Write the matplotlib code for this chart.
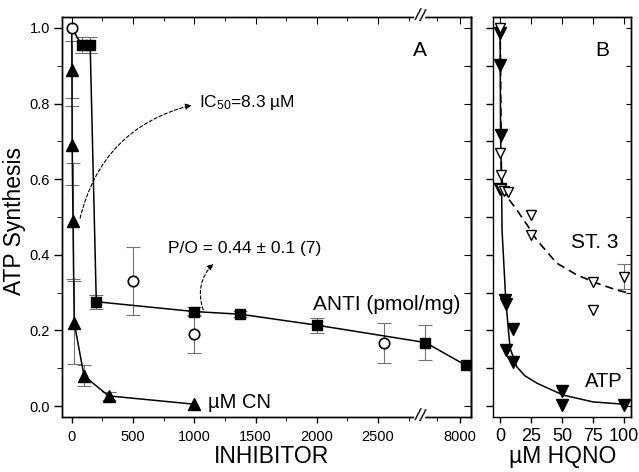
import numpy as np
import matplotlib
matplotlib.use('Agg')
import matplotlib.pyplot as plt
from matplotlib.ticker import FormatStrFormatter

plt.rcParams['font.family'] = ['Liberation Sans', 'DejaVu Sans']
plt.rcParams['mathtext.fontset'] = 'custom'
plt.rcParams['mathtext.rm'] = 'Liberation Sans'
plt.rcParams['mathtext.default'] = 'rm'
plt.rcParams['axes.linewidth'] = 1.0

# panel A: antimycin (squares), second set (circles), cyanide (triangles)
anti_x = [0, 80, 150, 200, 1000, 1375, 2000, 6500, 8250]
anti_y = [1.0, 0.955, 0.955, 0.276, 0.25, 0.243, 0.214, 0.168, 0.108]
anti_err = [0, 0.022, 0.022, 0.019, 0.012, 0.008, 0.02, 0.046, 0]

circ_x = [0, 500, 1000, 2550]
circ_y = [1.0, 0.331, 0.19, 0.168]
circ_err = [0, 0.09, 0.05, 0.053]

cn_x = [0, 1, 3, 10, 20, 100, 300, 1000]
cn_y = [1.0, 0.89, 0.69, 0.49, 0.22, 0.08, 0.027, 0.005]
cn_err = [0, 0.075, 0.104, 0.154, 0.11, 0.028, 0.011, 0]

# panel B: HQNO
atp_x = [0, 0, 0.5, 0, 4, 5, 10, 5, 10, 50, 50, 100]
atp_y = [0.986, 0.902, 0.717, 0.575, 0.28, 0.27, 0.205, 0.148, 0.117, 0.04, 0.002, 0.002]
atp_fit_x = [0, 0.3, 1.2, 1.5, 4.6, 8, 13.4, 20, 30, 51, 75, 100]
atp_fit_y = [1.0, 0.72, 0.575, 0.466, 0.276, 0.153, 0.104, 0.08, 0.06, 0.029, 0.011, 0.005]

st3_x = [0, 0, 0.5, 1, 3, 6, 25, 25, 75, 75, 100]
st3_y = [1.0, 0.668, 0.611, 0.575, 0.57, 0.565, 0.505, 0.452, 0.329, 0.254, 0.342]
st3_err = [0, 0, 0, 0, 0, 0, 0, 0, 0, 0, 0.033]
st3_fit_x = [0, 1, 2, 5.4, 13.4, 22.8, 29.6, 45.7, 61.8, 78, 94, 105]
st3_fit_y = [1.0, 0.62, 0.585, 0.554, 0.519, 0.474, 0.439, 0.378, 0.347, 0.325, 0.307, 0.298]

# broken x axis of panel A
BRK1, BRK2, K = 2840, 6250, 0.1876


def fwd(x):
    x = np.asarray(x, float)
    return np.where(x <= BRK1, x, BRK1 + np.clip(x - BRK2, 0, None) * K)


def inv(x):
    x = np.asarray(x, float)
    return np.where(x <= BRK1, x, BRK2 + (x - BRK1) / K)


def bars(a, x, y, e):
    x, y, e = np.asarray(x), np.asarray(y), np.asarray(e)
    m = e > 0
    a.errorbar(x[m], y[m], yerr=e[m], fmt='none', ecolor='0.45',
               elinewidth=0.8, capsize=5, capthick=0.8, zorder=1)


fig = plt.figure(figsize=(6.39, 4.72), dpi=100)
ax = fig.add_axes([0.0970, 0.1172, 0.6401, 0.8468])
axb = fig.add_axes([0.7711, 0.1172, 0.2160, 0.8468])

YL = (-0.028, 1.029)
xmaj = [0, 500, 1000, 1500, 2000, 2500, 8000]
xmin = [250, 750, 1250, 1750, 2250, 2750, 7000]

# ---- panel A
ax.set_xscale('function', functions=(fwd, inv))
ax.set_xlim(-80, 8480)
ax.set_ylim(*YL)

bars(ax, anti_x, anti_y, anti_err)
bars(ax, circ_x, circ_y, circ_err)
bars(ax, cn_x, cn_y, cn_err)
ax.plot(anti_x, anti_y, '-', color='k', lw=1.1, zorder=2)
ax.plot(anti_x[1:], anti_y[1:], 's', color='k', ms=7, zorder=3)
ax.plot(cn_x, cn_y, '-', color='k', lw=1.1, zorder=2)
ax.plot(cn_x[1:], cn_y[1:], '^', color='k', ms=9, zorder=3)
ax.plot(circ_x, circ_y, 'o', mfc='white', mec='k', mew=1.2, ms=7.5, zorder=4)

ax.set_xticks(xmaj)
ax.set_xticks(xmin, minor=True)
ax.set_xticklabels([str(v) for v in xmaj])
ax.set_yticks(np.arange(0, 1.01, 0.2))
ax.set_yticks(np.arange(0.1, 1.0, 0.2), minor=True)
ax.yaxis.set_major_formatter(FormatStrFormatter('%.1f'))
ax.tick_params(axis='x', which='major', direction='out', length=4.5, width=1,
               top=False, labelsize=10.5, pad=5)
ax.tick_params(axis='x', which='minor', direction='out', length=3, top=False)
ax.tick_params(axis='y', which='major', direction='out', length=6, width=1,
               right=False, labelsize=10.5, pad=2.5)
ax.tick_params(axis='y', which='minor', direction='out', length=3.5, right=False)

top = ax.twiny()
top.set_xscale('function', functions=(fwd, inv))
top.set_xlim(ax.get_xlim())
top.set_xticks(xmaj)
top.set_xticks(xmin, minor=True)
top.tick_params(axis='x', which='major', direction='in', length=5, labeltop=False)
top.tick_params(axis='x', which='minor', direction='in', length=3)

rt = ax.secondary_yaxis('right')
rt.set_ticks(np.arange(0, 1.01, 0.1))
rt.tick_params(direction='in', length=5, labelright=False)

ax.set_xlabel('INHIBITOR', fontsize=16.5)
ax.xaxis.set_label_coords(0.513, -0.07)
ax.set_ylabel('ATP Synthesis', fontsize=16.5)
ax.yaxis.set_label_coords(-0.087, 0.49)

arr = dict(arrowstyle='-|>', color='k', lw=0.8, linestyle=(0, (3, 2)),
           mutation_scale=9, shrinkA=0, shrinkB=0)
ax.annotate('', xy=(978, 0.796), xytext=(68, 0.497),
            arrowprops=dict(connectionstyle='arc3,rad=-0.3', **arr))
ax.annotate('', xy=(1155, 0.377), xytext=(1073, 0.254),
            arrowprops=dict(connectionstyle='arc3,rad=-0.3', **arr))
ax.text(1040, 0.79, 'IC$_{50}$=8.3 µM', fontsize=12.5)
ax.text(785, 0.406, 'P/O = 0.44 ± 0.1 (7)', fontsize=12.5)
ax.text(1971, 0.254, 'ANTI (pmol/mg)', fontsize=15)
ax.text(1114, -0.006, 'µM CN', fontsize=14.5)
ax.text(0.875, 0.902, 'A', transform=ax.transAxes, ha='center', fontsize=15)

for yy in (0, 1):
    fig.text(0.875, yy, '//', transform=ax.transAxes, ha='center', va='center',
             fontsize=13, rotation=-12,
             bbox=dict(fc='white', ec='none', pad=0.3))

# ---- panel B
axb.set_xlim(-6, 105.4)
axb.set_ylim(*YL)
bars(axb, st3_x, st3_y, st3_err)
axb.plot(atp_fit_x, atp_fit_y, '-', color='k', lw=1.1, zorder=2)
axb.plot(st3_fit_x, st3_fit_y, '--', color='k', lw=1.2, dashes=(5, 3), zorder=2)
axb.plot(atp_x, atp_y, 'v', color='k', ms=8, zorder=3)
axb.plot(st3_x, st3_y, 'v', mfc='white', mec='k', mew=1.0, ms=7.5, zorder=4)

bt = [0, 25, 50, 75, 100]
axb.set_xticks(bt)
axb.set_yticks(np.arange(0, 1.01, 0.1))
axb.tick_params(axis='x', direction='out', length=4.5, width=1, top=False,
                labelsize=13, pad=4)
axb.tick_params(axis='y', direction='out', length=5, width=1, right=False,
                labelleft=False)
tb = axb.secondary_xaxis('top')
tb.set_ticks(bt)
tb.tick_params(direction='in', length=5, labeltop=False)
rb = axb.secondary_yaxis('right')
rb.set_ticks(np.arange(0, 1.01, 0.1))
rb.tick_params(direction='in', length=3.5, labelright=False)

axb.set_xlabel('µM HQNO', fontsize=16.5)
axb.xaxis.set_label_coords(0.509, -0.07)
axb.text(57, 0.417, 'ST. 3', fontsize=15)
axb.text(68.5, 0.051, 'ATP', fontsize=14.5)
axb.text(0.79, 0.902, 'B', transform=axb.transAxes, ha='center', fontsize=15)

fig.savefig('out.png', dpi=100)
